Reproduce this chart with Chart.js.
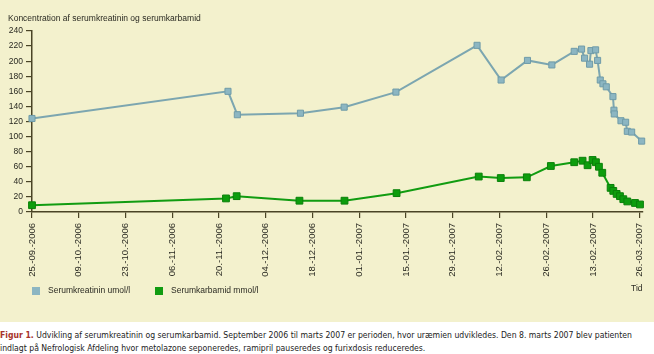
<!DOCTYPE html>
<html>
<head>
<meta charset="utf-8">
<script src="https://cdn.jsdelivr.net/npm/chart.js@4.4.0/dist/chart.umd.min.js"></script>
<style>
  body { margin: 0; background: #fff; }
  #panel { position: absolute; left: 0; top: 0; width: 654px; height: 322px; background: #f3f1cd; }
  #caption {
    position: absolute; left: 0; top: 329px; width: 654px;
    font-family: "DejaVu Sans Condensed", sans-serif;
    font-size: 8.6px; line-height: 13px; color: #222; white-space: nowrap;
  }
  #caption b { color: #a8332a; }
</style>
</head>
<body>
<div id="panel"><canvas id="chart" width="654" height="322"></canvas></div>
<div id="caption"><b>Figur 1.</b> Udvikling af serumkreatinin og serumkarbamid. September 2006 til marts 2007 er perioden, hvor uræmien udvikledes. Den 8. marts 2007 blev patienten<br>indlagt på Nefrologisk Afdeling hvor metolazone seponeredes, ramipril pauseredes og furixdosis reduceredes.</div>
<script>
// days counted from 25.09.2006
const tickDays = [0, 14, 28, 42, 56, 70, 84, 98, 112, 126, 140, 154, 168, 182];
const tickLabels = ['25.-09.-2006', '09.-10.-2006', '23.-10.-2006', '06.-11.-2006', '20.-11.-2006',
  '04.-12.-2006', '18.-12.-2006', '01.-01.-2007', '15.-01.-2007', '29.-01.-2007', '12.-02.-2007',
  '26.-02.-2007', '13.-02.-2007', '26.-03.-2007'];

// Serumkreatinin umol/l
const kreaDays = [0, 58.7, 61.5, 80.4, 93.5, 109, 133.3, 140.5, 148.4, 155.7, 162.4, 164.6, 165.5, 167,
  167.4, 168.8, 169.4, 170.2, 171, 172, 174, 174.3, 174.4, 176.4, 177.8, 178.3, 179.6, 182.6];
const kreaValues = [124, 160, 129, 131, 139, 159, 221, 175, 201, 195, 213, 216, 204, 196,
  214, 215, 201, 175, 170, 166, 153, 135, 130, 121, 119, 107, 106, 94];

// Serumkarbamid mmol/l
const karbDays = [0, 58.1, 61.3, 80.1, 93.6, 109.2, 133.8, 140.4, 148.2, 155.4, 162.4, 164.9, 166.4,
  167.9, 168.9, 169.8, 170.8, 173.3, 174.1, 175.1, 176.1, 177.1, 178.3, 180.6, 182.1];
const karbValues = [9, 18, 21, 15, 15, 25, 47, 45, 46, 61, 66, 68, 62,
  69, 66, 60, 52, 32, 28, 24, 21, 17, 14, 12, 10];

const axisColor = '#4a4426';
const textColor = '#2a2a22';
const kreaColor = '#7ca6b0';
const karbColor = '#119c11';

function points(days, values) {
  return days.map((d, i) => ({ x: d, y: values[i] }));
}

// title, legend and "Tid" are drawn by hand so they sit where the original has them
const extras = {
  id: 'extras',
  afterDraw(chart) {
    const ctx = chart.ctx;
    ctx.save();
    ctx.fillStyle = textColor;
    ctx.font = '8.5px "Liberation Sans", Arial, sans-serif';
    ctx.textBaseline = 'middle';
    ctx.textAlign = 'left';
    ctx.fillText('Koncentration af serumkreatinin og serumkarbamid', 8, 19);
    ctx.fillText('Tid', 631, 289);

    const items = [
      { x: 32, text: 'Serumkreatinin umol/l', color: '#8cb6c2' },
      { x: 155, text: 'Serumkarbamid mmol/l', color: karbColor }
    ];
    items.forEach(it => {
      ctx.fillStyle = it.color;
      ctx.fillRect(it.x, 287, 8, 8);
      ctx.fillStyle = textColor;
      ctx.fillText(it.text, it.x + 16, 291);
    });
    ctx.restore();
  }
};

new Chart(document.getElementById('chart'), {
  type: 'line',
  data: {
    datasets: [
      {
        label: 'Serumkreatinin umol/l',
        data: points(kreaDays, kreaValues),
        borderColor: kreaColor,
        backgroundColor: '#8cb6c2',
        pointBorderColor: '#6f9ba8',
        borderWidth: 2,
        pointStyle: 'rect',
        pointRadius: 4.3,
        pointBorderWidth: 1,
        tension: 0,
        clip: false
      },
      {
        label: 'Serumkarbamid mmol/l',
        data: points(karbDays, karbValues),
        borderColor: karbColor,
        backgroundColor: '#0d9d0d',
        pointBorderColor: '#0a800a',
        borderWidth: 2,
        pointStyle: 'rect',
        pointRadius: 4.8,
        pointBorderWidth: 1,
        tension: 0,
        clip: false
      }
    ]
  },
  options: {
    responsive: false,
    animation: false,
    layout: { padding: { top: 31, right: 11, bottom: 40, left: 0 } },
    plugins: {
      legend: { display: false },
      tooltip: { enabled: false }
    },
    scales: {
      x: {
        type: 'linear',
        min: 0,
        max: 183,
        afterBuildTicks: s => { s.ticks = tickDays.map(v => ({ value: v })); },
        afterFit: s => { s.height = 70; s.paddingRight = 0; s.paddingLeft = 0; },
        ticks: {
          autoSkip: false,
          minRotation: 90,
          maxRotation: 90,
          padding: 5,
          color: textColor,
          font: { family: '"Liberation Sans", Arial, sans-serif', size: 9.5 },
          callback: (v, i) => tickLabels[i]
        },
        grid: { drawOnChartArea: false, tickLength: 6, color: axisColor, tickColor: axisColor, lineWidth: 1.2 },
        border: { color: axisColor, width: 1.5 }
      },
      y: {
        min: 0,
        max: 240,
        afterFit: s => { s.width = 32; },
        ticks: {
          stepSize: 20,
          padding: 3,
          color: textColor,
          font: { family: '"Liberation Sans", Arial, sans-serif', size: 8.5 }
        },
        grid: { drawOnChartArea: false, tickLength: 6, color: axisColor, tickColor: axisColor, lineWidth: 1.2 },
        border: { color: axisColor, width: 1.5 }
      }
    }
  },
  plugins: [extras]
});
</script>
</body>
</html>
